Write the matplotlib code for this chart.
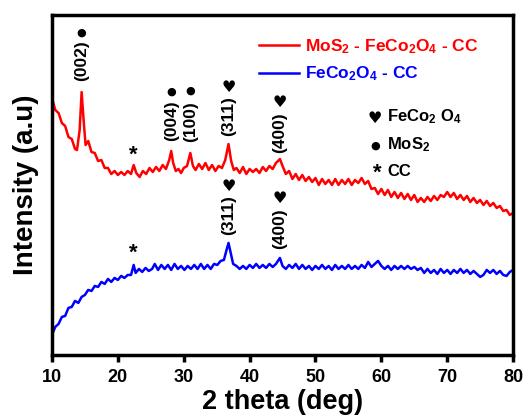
import matplotlib
matplotlib.use("Agg")
import matplotlib.pyplot as plt

# --- data (intensity in arbitrary units) ---
two_theta_red = [10.0, 10.5, 11.0, 11.5, 12.0, 12.5, 13.0, 13.5, 13.8, 14.2, 14.5, 14.8, 15.1, 15.5,
                 16.0, 16.5, 17.0, 17.5, 18.0, 18.5, 19.0, 19.5, 20.0, 20.5, 21.0, 21.5, 22.0, 22.4,
                 22.8, 23.3, 23.8, 24.3, 24.8, 25.3, 25.8, 26.3, 26.8, 27.3, 27.8, 28.1, 28.4, 28.8,
                 29.2, 29.6, 30.0, 30.5, 31.0, 31.4, 31.8, 32.3, 32.8, 33.3, 33.8, 34.3, 34.8, 35.3,
                 35.8, 36.3, 36.8, 37.2, 37.6, 38.0, 38.5, 39.0, 39.5, 40.0, 40.5, 41.0, 41.5, 42.0,
                 42.5, 43.0, 43.5, 44.0, 44.6, 45.0, 45.5, 46.0, 46.5, 47.0, 47.5, 48.0, 48.5, 49.0,
                 49.5, 50.0, 50.5, 51.0, 51.5, 52.0, 52.5, 53.0, 53.5, 54.0, 54.5, 55.0, 55.5, 56.0,
                 56.5, 57.0, 57.5, 58.0, 58.5, 59.0, 59.5, 60.0, 60.5, 61.0, 61.5, 62.0, 62.5, 63.0,
                 63.5, 64.0, 64.5, 65.0, 65.5, 66.0, 66.5, 67.0, 67.5, 68.0, 68.5, 69.0, 69.5, 70.0,
                 70.5, 71.0, 71.5, 72.0, 72.5, 73.0, 73.5, 74.0, 74.5, 75.0, 75.5, 76.0, 76.5, 77.0,
                 77.5, 78.0, 78.5, 79.0, 79.5, 80.0]
intensity_red = [257, 245, 242, 232, 229, 218, 216, 206, 205, 225, 263, 235, 210, 214,
                 203, 202, 194, 195, 187, 187, 181, 184, 180, 183, 180, 184, 181, 190,
                 182, 178, 184, 181, 187, 183, 188, 184, 190, 186, 195, 204, 192, 184,
                 186, 182, 187, 189, 202, 189, 185, 191, 186, 192, 185, 190, 184, 189,
                 187, 195, 211, 194, 185, 187, 182, 188, 181, 186, 183, 186, 182, 188,
                 184, 189, 186, 192, 196, 189, 181, 184, 176, 181, 175, 180, 174, 178,
                 173, 177, 170, 176, 171, 175, 170, 176, 170, 175, 171, 176, 170, 175,
                 172, 177, 171, 174, 166, 167, 161, 166, 160, 165, 158, 163, 157, 162,
                 156, 161, 155, 160, 153, 157, 153, 158, 154, 159, 155, 160, 158, 163,
                 158, 162, 156, 160, 155, 159, 153, 157, 152, 155, 150, 154, 149, 152,
                 147, 149, 144, 145, 140, 142]

two_theta_blue = [10.0, 10.5, 11.0, 11.5, 12.0, 12.5, 13.0, 13.5, 14.0, 14.5, 15.0, 15.5, 16.0, 16.5,
                  17.0, 17.5, 18.0, 18.5, 19.0, 19.5, 20.0, 20.5, 21.0, 21.5, 22.0, 22.4, 22.7, 23.2,
                  23.7, 24.2, 24.7, 25.2, 25.6, 26.1, 26.6, 27.1, 27.6, 28.1, 28.6, 29.1, 29.6, 30.1,
                  30.6, 31.1, 31.6, 32.1, 32.6, 33.1, 33.6, 34.1, 34.6, 35.1, 35.6, 36.1, 36.5, 36.8,
                  37.1, 37.5, 38.0, 38.5, 39.0, 39.5, 40.0, 40.5, 41.0, 41.5, 42.0, 42.5, 43.0, 43.5,
                  44.0, 44.6, 45.0, 45.5, 46.0, 46.5, 47.0, 47.5, 48.0, 48.5, 49.0, 49.5, 50.0, 50.5,
                  51.0, 51.5, 52.0, 52.5, 53.0, 53.5, 54.0, 54.5, 55.0, 55.5, 56.0, 56.5, 57.0, 57.5,
                  58.0, 58.5, 59.0, 59.5, 60.0, 60.5, 61.0, 61.5, 62.0, 62.5, 63.0, 63.5, 64.0, 64.5,
                  65.0, 65.5, 66.0, 66.5, 67.0, 67.5, 68.0, 68.5, 69.0, 69.5, 70.0, 70.5, 71.0, 71.5,
                  72.0, 72.5, 73.0, 73.5, 74.0, 74.5, 75.0, 75.5, 76.0, 76.5, 77.0, 77.5, 78.0, 78.5,
                  79.0, 79.5, 80.0]
intensity_blue = [20, 28, 31, 38, 39, 47, 48, 54, 52, 58, 60, 65, 64, 69,
                  68, 73, 71, 76, 73, 77, 75, 79, 77, 80, 80, 90, 82, 86,
                  83, 87, 84, 86, 91, 85, 90, 86, 90, 85, 91, 86, 89, 85,
                  89, 86, 90, 86, 91, 86, 90, 86, 91, 90, 94, 95, 105, 112,
                  103, 91, 89, 86, 89, 86, 90, 87, 91, 87, 90, 87, 91, 88,
                  91, 97, 89, 86, 90, 87, 91, 86, 90, 86, 89, 85, 89, 86,
                  90, 86, 89, 85, 90, 86, 89, 86, 90, 86, 89, 86, 90, 87,
                  93, 88, 91, 94, 89, 86, 89, 85, 89, 86, 89, 86, 89, 86,
                  88, 85, 87, 82, 86, 82, 85, 81, 86, 82, 85, 81, 85, 82,
                  86, 82, 85, 81, 84, 81, 78, 80, 85, 82, 85, 81, 84, 80,
                  79, 83, 85]

# peak labels: (two theta, label y, symbol y, symbol, hkl)
peaks_red = [(14.5, 294, 322, "●", "(002)"),
             (28.1, 234, 263, "●", "(004)"),
             (31.0, 233, 264, "●", "(100)"),
             (36.8, 239, 268, "♥", "(311)"),
             (44.6, 222, 253, "♥", "(400)")]
peaks_blue = [(36.8, 140, 168, "♥", "(311)"),
              (44.6, 126, 156, "♥", "(400)")]
cc_marks = [(22.4, 200), (22.4, 102)]

plt.rcParams['font.family'] = ['Liberation Sans', 'DejaVu Sans']
plt.rcParams['font.weight'] = 'bold'
plt.rcParams['mathtext.fontset'] = 'custom'
plt.rcParams['mathtext.rm'] = 'Liberation Sans:bold'
plt.rcParams['mathtext.bf'] = 'Liberation Sans:bold'
plt.rcParams['mathtext.default'] = 'bf'

fig = plt.figure(figsize=(5.24, 4.19), dpi=100)
ax = fig.add_axes([0.0992, 0.153, 0.880, 0.811])

ax.plot(two_theta_red, intensity_red, color='#ff0000', lw=1.8, label=r'MoS$_2$ - FeCo$_2$O$_4$ - CC')
ax.plot(two_theta_blue, intensity_blue, color='#0000ff', lw=1.8, label=r'FeCo$_2$O$_4$ - CC')

for x, ty, sy, sym, lab in peaks_red + peaks_blue:
    ax.text(x, ty, lab, rotation=90, ha='center', va='center', fontsize=12.5)
    ax.text(x, sy, sym, ha='center', va='center', fontsize=8 if sym == "●" else 11.5,
            family='DejaVu Sans')
for x, y in cc_marks:
    ax.text(x, y, "*", ha='center', va='center', fontsize=16)

# phase key
ax.text(0.70, 0.696, "♥", transform=ax.transAxes, ha='center', va='center', fontsize=11.5,
        family='DejaVu Sans')
ax.text(0.727, 0.700, r'FeCo$_2$ O$_4$', transform=ax.transAxes, ha='left', va='center', fontsize=12)
ax.text(0.70, 0.615, "●", transform=ax.transAxes, ha='center', va='center', fontsize=8,
        family='DejaVu Sans')
ax.text(0.727, 0.618, r'MoS$_2$', transform=ax.transAxes, ha='left', va='center', fontsize=12)
ax.text(0.705, 0.535, "*", transform=ax.transAxes, ha='center', va='center', fontsize=16)
ax.text(0.727, 0.540, 'CC', transform=ax.transAxes, ha='left', va='center', fontsize=12)

leg = ax.legend(loc='upper left', bbox_to_anchor=(0.433, 0.955), frameon=False, fontsize=12.5,
                handlelength=2.3, handletextpad=0.35, labelspacing=0.5, borderaxespad=0)
for txt, col in zip(leg.get_texts(), ['#ff0000', '#0000ff']):
    txt.set_color(col)

ax.set_xlim(10, 80)
ax.set_ylim(0, 340)
ax.set_xticks(range(10, 81, 10))
ax.set_yticks([])
ax.tick_params(axis='x', direction='out', length=5, width=2.5, labelsize=13, pad=5)
for sp in ax.spines.values():
    sp.set_linewidth(2.5)

ax.set_xlabel("2 theta (deg)", fontsize=19.5, fontweight='bold', labelpad=2)
ax.set_ylabel("Intensity (a.u)", fontsize=20, fontweight='bold', labelpad=9)

fig.savefig("out.png", dpi=100)
